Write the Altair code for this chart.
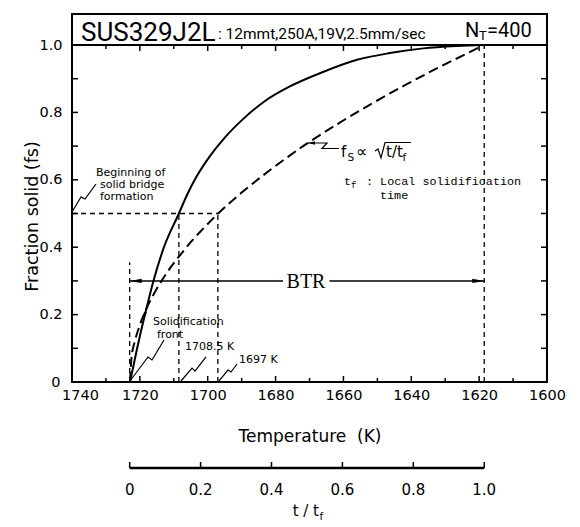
import altair as alt
import pandas as pd

# ---------------- data ----------------
temp_labels = [1740, 1720, 1700, 1680, 1660, 1640, 1620, 1600]
temp_minor = [1730, 1720, 1710, 1700, 1690, 1680, 1670, 1660, 1650, 1640, 1630, 1620, 1610]
fs_labels = [0, 0.2, 0.4, 0.6, 0.8, 1.0]
fs_minor = [0.1, 0.2, 0.3, 0.4, 0.5, 0.6, 0.7, 0.8, 0.9]
t_ticks = [0, 0.2, 0.4, 0.6, 0.8, 1.0]
t_labels = ["0", "0.2", "0.4", "0.6", "0.8", "1.0"]

# measured fraction-solid curve (solid line)
solid_T = [1722.9, 1720.8, 1718.5, 1716.0, 1712.9, 1708.5, 1706.1, 1703.2, 1699.3, 1694.9,
           1689.6, 1683.1, 1675.8, 1666.0, 1656.0, 1646.3, 1636.5, 1626.5, 1618.6]
solid_fs = [0, 0.10, 0.20, 0.30, 0.40, 0.50, 0.555, 0.611, 0.671, 0.726,
            0.780, 0.834, 0.877, 0.920, 0.956, 0.976, 0.990, 0.997, 1.0]
# fs ∝ sqrt(t/tf) curve (dashed line)
dash_T = [1722.9, 1722.5, 1721.5, 1720.0, 1718.0, 1716.0, 1713.6, 1710.0, 1708.5, 1705.0,
          1702.0, 1697.0, 1690.0, 1682.0, 1672.0, 1662.0, 1652.0, 1642.0, 1632.0, 1625.0, 1618.6]
dash_fs = [0, 0.069, 0.12, 0.169, 0.219, 0.259, 0.30, 0.353, 0.372, 0.415,
           0.448, 0.499, 0.562, 0.626, 0.699, 0.764, 0.824, 0.880, 0.933, 0.968, 1.0]

# characteristic temperatures (K)
T_start = 1723.0      # solidification front
T_bridge_1 = 1708.5   # fs = 0.5 on measured curve
T_bridge_2 = 1697.0   # fs = 0.5 on sqrt curve
T_end = 1618.5        # end of solidification
fs_bridge = 0.5
fs_btr = 0.3

# ---------------- scales / axes ----------------
xs = alt.Scale(domain=[1600, 1740], reverse=True, nice=False, zero=False)
ys = alt.Scale(domain=[0, 1], nice=False, zero=False)
FONT = "DejaVu Sans"

x_axis = alt.Axis(values=temp_labels, format="d", labelFont=FONT, labelFontSize=14.5,
                  labelColor="black", labelPadding=6, ticks=False, tickSize=0,
                  labelOffset={"condition": {"test": "datum.value == 1740", "value": 8},
                               "value": 0},
                  domain=False, grid=False, labelFlush=False,
                  title="Temperature\u00a0\u00a0(K)", titleFont=FONT, titleFontSize=17,
                  titleFontWeight="normal", titleColor="black", titleX=237.5,
                  titleY=59, titleBaseline="alphabetic", titleAlign="center")
y_axis = alt.Axis(values=fs_labels,
                  labelExpr="datum.value == 0 ? '0' : format(datum.value, '.1f')",
                  labelFont=FONT, labelFontSize=14.5, labelColor="black",
                  labelPadding={"condition": {"test": "datum.value == 0", "value": 12},
                                "value": 10},
                  ticks=False, tickSize=0, domain=False, grid=False,
                  labelFlush=False,
                  title="Fraction solid (fs)", titleFont=FONT, titleFontSize=17.5,
                  titleFontWeight="normal", titleColor="black", titleX=-35,
                  titleY=171, titleAngle=-90, titleBaseline="alphabetic",
                  titleAlign="center")


def X(field="T"):
    return alt.X(f"{field}:Q", scale=xs, axis=x_axis)


def Y(field="fs"):
    return alt.Y(f"{field}:Q", scale=ys, axis=y_axis)


# ---------------- curves ----------------
solid_df = pd.DataFrame({"T": solid_T, "fs": solid_fs})
dash_df = pd.DataFrame({"T": dash_T, "fs": dash_fs})

solid = alt.Chart(solid_df).mark_line(color="black", strokeWidth=2, interpolate="monotone").encode(
    x=X(), y=Y(), order="fs:Q")
dashed = alt.Chart(dash_df).mark_line(color="black", strokeWidth=2, strokeDash=[10, 5],
                                      interpolate="monotone").encode(
    x=X(), y=Y(), order="fs:Q")

# ---------------- dashed guide lines ----------------
vl_df = pd.DataFrame({"T": [T_start, T_bridge_1, T_bridge_2, T_end],
                      "y0": [0, 0, 0, 0], "y1": [0.355, fs_bridge, fs_bridge, 1.0]})
vlines = alt.Chart(vl_df).mark_rule(color="black", strokeWidth=1.3, strokeDash=[5, 4]).encode(
    x=X(), y=Y("y0"), y2="y1:Q")

hl_df = pd.DataFrame({"T0": [1740], "T1": [T_bridge_2], "fs": [fs_bridge]})
hline = alt.Chart(hl_df).mark_rule(color="black", strokeWidth=1.3, strokeDash=[5, 4]).encode(
    x=X("T0"), x2="T1:Q", y=Y())

# ---------------- inward ticks ----------------
tick_rows = []
for T in temp_minor:
    L = 0.0178 if T % 20 == 0 else 0.0119
    tick_rows.append({"x0": T, "x1": T, "y0": 0, "y1": L})
    tick_rows.append({"x0": T, "x1": T, "y0": 1.0, "y1": 1.0 - L})
for f in fs_minor:
    tick_rows.append({"x0": 1740, "x1": 1738.23, "y0": f, "y1": f})
    tick_rows.append({"x0": 1600, "x1": 1601.77, "y0": f, "y1": f})
ticks = alt.Chart(pd.DataFrame(tick_rows)).mark_rule(color="black", strokeWidth=1.5).encode(
    x=X("x0"), x2="x1:Q", y=Y("y0"), y2="y1:Q")

# ---------------- title box ----------------
box = alt.Chart(pd.DataFrame({"a": [1740], "b": [1600], "c": [1.0], "d": [1.092]})).mark_rect(
    fillOpacity=0, stroke="black", strokeWidth=2).encode(
    x=X("a"), x2="b:Q", y=Y("c"), y2="d:Q")


def text_layer(rows, size, font=FONT, align="left", baseline="alphabetic"):
    return alt.Chart(pd.DataFrame(rows)).mark_text(
        fontSize=size, font=font, align=align, baseline=baseline, color="black").encode(
        x=X(), y=Y(), text="label:N")


title_big = text_layer([{"T": 1737.35, "fs": 1.0119, "label": "SUS329J2L"}], 26, font="Roboto")
title_small = text_layer([{"T": 1696.97, "fs": 1.0178, "label": ": 12mmt,250A,19V,2.5mm/sec"}],
                         15.5, font="Roboto")
title_n = text_layer([{"T": 1624.17, "fs": 1.0237, "label": "N"},
                      {"T": 1617.68, "fs": 1.0237, "label": "=400"}], 20, font="Roboto")
title_nsub = text_layer([{"T": 1620.04, "fs": 1.0148, "label": "T"}], 13, font="Roboto")

# ---------------- BTR arrow ----------------
btr_df = pd.DataFrame({"T0": [T_start, 1664.1], "T1": [1677.8, T_end], "fs": [fs_btr, fs_btr]})
btr_line = alt.Chart(btr_df).mark_rule(color="black", strokeWidth=1.5).encode(
    x=X("T0"), x2="T1:Q", y=Y())
arr_l = alt.Chart(pd.DataFrame({"T": [T_start], "fs": [fs_btr]})).mark_point(
    shape="M0,0 L2,-0.35 L2,0.35 Z", size=144, filled=True, color="black", opacity=1,
    strokeWidth=0).encode(x=X(), y=Y())
arr_r = alt.Chart(pd.DataFrame({"T": [T_end], "fs": [fs_btr]})).mark_point(
    shape="M0,0 L-2,-0.35 L-2,0.35 Z", size=144, filled=True, color="black", opacity=1,
    strokeWidth=0).encode(x=X(), y=Y())
btr_text = text_layer([{"T": 1671.03, "fs": 0.2789, "label": "BTR"}], 20,
                      font="Liberation Serif", align="center")

# arrow on the solid curve (solidification front) and on the fs ∝ sqrt leader
front_arrow = alt.Chart(pd.DataFrame({"T": [1718.9], "fs": [0.184]})).mark_point(
    shape="M0,0 L-0.4,-2 L0.4,-2 Z", size=64, angle=13, filled=True, color="black",
    opacity=1, strokeWidth=0).encode(x=X(), y=Y())
sqrt_arrow = alt.Chart(pd.DataFrame({"T": [1670.44], "fs": [0.7092]})).mark_point(
    shape="M0,0 L2,-0.5 L2,0.5 Z", size=49, filled=True, color="black", opacity=1,
    strokeWidth=0).encode(x=X(), y=Y())

# ---------------- zig-zag leaders ----------------
leaders = {
    "bridge": [(1740.0, 0.5045), (1737.35, 0.549), (1736.17, 0.543), (1732.93, 0.5875)],
    "front": [(1722.91, 0.003), (1717.6, 0.0742), (1716.42, 0.0653), (1712.88, 0.1246)],
    "k1": [(1707.87, 0.003), (1704.63, 0.0415), (1703.75, 0.0326), (1700.5, 0.0742)],
    "k2": [(1696.67, 0.003), (1694.02, 0.0356), (1693.14, 0.0297), (1691.37, 0.0534)],
    "sqrt": [(1670.44, 0.7092), (1664.84, 0.7092), (1666.32, 0.6929), (1661.3, 0.6929)],
    "radical": [(1650.70, 0.6855), (1649.81, 0.6914), (1648.93, 0.6647), (1647.75, 0.7107),
                (1640.08, 0.7107)],
}
lead_rows = []
for g, pts in leaders.items():
    for i, (T, f) in enumerate(pts):
        lead_rows.append({"g": g, "i": i, "T": T, "fs": f})
lead = alt.Chart(pd.DataFrame(lead_rows)).mark_line(color="black", strokeWidth=1.2).encode(
    x=X(), y=Y(), detail="g:N", order="i:Q")

# ---------------- annotation texts ----------------
ann_small = text_layer([
    {"T": 1732.93, "fs": 0.6113, "label": "Beginning of"},
    {"T": 1731.75, "fs": 0.5742, "label": "solid bridge"},
    {"T": 1731.75, "fs": 0.5386, "label": "formation"},
    {"T": 1716.13, "fs": 0.1691, "label": "Solidification"},
    {"T": 1714.95, "fs": 0.1320, "label": "front"},
    {"T": 1706.69, "fs": 0.0935, "label": "1708.5 K"},
    {"T": 1690.78, "fs": 0.0564, "label": "1697 K"},
], 11)
ann_fs = text_layer([
    {"T": 1660.72, "fs": 0.6677, "label": "f"},
    {"T": 1647.45, "fs": 0.6677, "label": "t/t"},
], 15)
ann_prop = text_layer([{"T": 1656.3, "fs": 0.6677, "label": "\u221d"}], 16)
ann_sub = text_layer([
    {"T": 1658.8, "fs": 0.6558, "label": "S"},
    {"T": 1642.59, "fs": 0.6558, "label": "f"},
], 10.5)
ann_mono = text_layer([
    {"T": 1659.83, "fs": 0.5846, "label": "t"},
    {"T": 1653.35, "fs": 0.5846, "label": ": Local solidification"},
    {"T": 1649.22, "fs": 0.5445, "label": "time"},
], 11.75, font="Liberation Mono")
ann_mono_sub = text_layer([{"T": 1657.77, "fs": 0.5757, "label": "f"}], 9, font="Liberation Mono")

# ---------------- secondary t/tf axis ----------------
sec_df = pd.DataFrame({"t": t_ticks, "lab": t_labels})
sec_base = alt.Chart(sec_df).transform_calculate(T=f"{T_start} - datum.t * {T_start - T_end}")
sec_line = alt.Chart(pd.DataFrame({"a": [T_start], "b": [T_end]})).mark_rule(
    color="black", strokeWidth=2.4).encode(x=X("a"), x2="b:Q", y=alt.value(423))
sec_ticks = sec_base.mark_rule(color="black", strokeWidth=1.5).encode(
    x=X(), y=alt.value(417), y2=alt.value(423))
sec_labels = sec_base.mark_text(fontSize=15, font=FONT, baseline="middle", color="black").encode(
    x=X(), y=alt.value(445), text="lab:N")
sec_title = alt.Chart(pd.DataFrame({"label": ["t / t"]})).mark_text(
    fontSize=15, font=FONT, align="right", baseline="alphabetic", color="black").encode(
    x=alt.value(247), y=alt.value(471), text="label:N")
sec_title_sub = alt.Chart(pd.DataFrame({"label": ["f"]})).mark_text(
    fontSize=10.5, font=FONT, align="left", baseline="alphabetic", color="black").encode(
    x=alt.value(247.5), y=alt.value(475), text="label:N")

chart = alt.layer(
    solid, dashed, vlines, hline, ticks, box, title_big, title_small, title_n, title_nsub,
    btr_line, arr_l, arr_r, btr_text, front_arrow, sqrt_arrow, lead,
    ann_small, ann_fs, ann_prop, ann_sub, ann_mono, ann_mono_sub,
    sec_line, sec_ticks, sec_labels, sec_title, sec_title_sub,
).properties(
    width=475, height=337,
    padding={"left": 72, "top": 45, "right": 33, "bottom": 145},
    autosize=alt.AutoSizeParams(type="none"),
    background="white",
).configure_view(stroke="black", strokeWidth=2)

chart.save("out.html", embed_options={"renderer": "svg", "actions": False})
